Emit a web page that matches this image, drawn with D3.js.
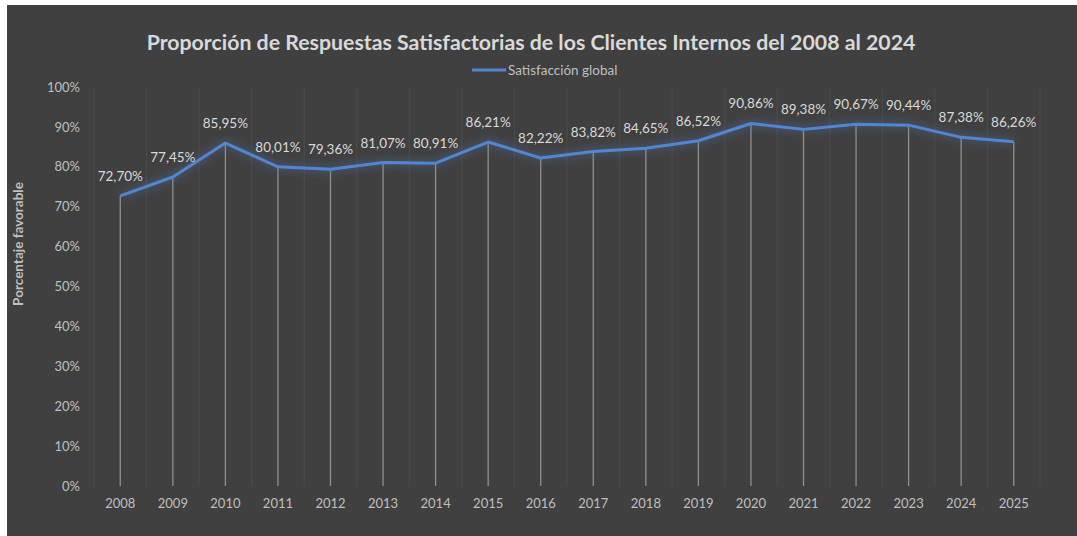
<!DOCTYPE html>
<html>
<head>
<meta charset="utf-8">
<script src="https://cdn.jsdelivr.net/npm/d3@7"></script>
<style>
  body { margin: 0; background: #ffffff; }
  svg { display: block; }
  text { font-family: Lato, "Open Sans", sans-serif; }
</style>
</head>
<body>
<svg id="chart" width="1077" height="536"></svg>
<script>
// data
var years = ["2008", "2009", "2010", "2011", "2012", "2013", "2014", "2015", "2016",
             "2017", "2018", "2019", "2020", "2021", "2022", "2023", "2024", "2025"];
var satisfaccion = [72.70, 77.45, 85.95, 80.01, 79.36, 81.07, 80.91, 86.21, 82.22,
                    83.82, 84.65, 86.52, 90.86, 89.38, 90.67, 90.44, 87.38, 86.26];
var yTicks = [0, 10, 20, 30, 40, 50, 60, 70, 80, 90, 100];
var titleText = "Proporción de Respuestas Satisfactorias de los Clientes Internos del 2008 al 2024";
var seriesName = "Satisfacción global";
var yTitle = "Porcentaje favorable";

var W = 1077, H = 536;
var margin = {top: 87, right: 37, bottom: 50, left: 94};

var svg = d3.select("#chart");

// dark chart area (white strip on top and left like the screenshot)
svg.append("rect")
    .attr("x", 7).attr("y", 5)
    .attr("width", W - 7).attr("height", H - 5)
    .attr("fill", "#404040");

var defs = svg.append("defs");
var glow = defs.append("filter").attr("id", "glow")
    .attr("x", "-5%").attr("y", "-40%").attr("width", "110%").attr("height", "180%");
glow.append("feGaussianBlur").attr("in", "SourceGraphic").attr("stdDeviation", 5).attr("result", "b");
glow.append("feComponentTransfer").attr("in", "b").attr("result", "b2")
    .append("feFuncA").attr("type", "linear").attr("slope", 0.7);
var merge = glow.append("feMerge");
merge.append("feMergeNode").attr("in", "b2");
merge.append("feMergeNode").attr("in", "SourceGraphic");

var x = d3.scaleBand()
    .domain(years)
    .range([margin.left, W - margin.right]);

var y = d3.scaleLinear()
    .domain([0, 100])
    .range([H - margin.bottom, margin.top]);

var loc = d3.formatLocale({decimal: ",", thousands: ".", grouping: [3], currency: ["", "€"]});
var fmt = loc.format(".2f");

var g = svg.append("g");

// faint vertical gridlines at category boundaries
var bounds = years.map(d => x(d)).concat([x(years[years.length - 1]) + x.bandwidth()]);
g.selectAll("line.grid")
    .data(bounds)
    .join("line")
    .attr("class", "grid")
    .attr("x1", d => d).attr("x2", d => d)
    .attr("y1", y(100)).attr("y2", y(0))
    .attr("stroke", "#4b4b4b")
    .attr("stroke-width", 1);

// drop lines from points down to axis
g.selectAll("line.drop")
    .data(satisfaccion)
    .join("line")
    .attr("class", "drop")
    .attr("x1", (d, i) => x(years[i]) + x.bandwidth() / 2)
    .attr("x2", (d, i) => x(years[i]) + x.bandwidth() / 2)
    .attr("y1", d => y(d))
    .attr("y2", y(0))
    .attr("stroke", "#8f8f8f")
    .attr("stroke-width", 1.3);

// y axis labels
var yAxis = d3.axisLeft(y)
    .tickValues(yTicks)
    .tickFormat(d => d + "%")
    .tickSize(0)
    .tickPadding(14);
var ya = svg.append("g")
    .attr("transform", "translate(" + margin.left + ",0)")
    .call(yAxis);
ya.select(".domain").remove();
ya.selectAll("text")
    .attr("fill", "#bfbfbf")
    .style("font-size", "13px")
    .style("font-family", "Lato, sans-serif");

// x axis labels
var xAxis = d3.axisBottom(x).tickSize(0).tickPadding(13);
var xa = svg.append("g")
    .attr("transform", "translate(0," + y(0) + ")")
    .call(xAxis);
xa.select(".domain").remove();
xa.selectAll("text")
    .attr("fill", "#bfbfbf")
    .style("font-size", "13px")
    .style("font-family", "Lato, sans-serif");

// the line with a soft blue glow
var line = d3.line()
    .x((d, i) => x(years[i]) + x.bandwidth() / 2)
    .y(d => y(d));

g.append("path")
    .datum(satisfaccion)
    .attr("d", line)
    .attr("fill", "none")
    .attr("stroke", "#5286d0")
    .attr("stroke-width", 3)
    .attr("stroke-linejoin", "round")
    .attr("filter", "url(#glow)");

// data labels
g.selectAll("text.lbl")
    .data(satisfaccion)
    .join("text")
    .attr("class", "lbl")
    .attr("x", (d, i) => x(years[i]) + x.bandwidth() / 2)
    .attr("y", d => y(d) - 15)
    .attr("text-anchor", "middle")
    .attr("fill", "#d9d9d9")
    .style("font-size", "13.5px")
    .text(d => fmt(d) + "%");

// title
svg.append("text")
    .attr("x", 531)
    .attr("y", 50)
    .attr("text-anchor", "middle")
    .attr("fill", "#d9d9d9")
    .style("font-size", "21.3px")
    .style("font-weight", "bold")
    .text(titleText);

// legend
svg.append("line")
    .attr("x1", 472).attr("x2", 506)
    .attr("y1", 70).attr("y2", 70)
    .attr("stroke", "#5286d0")
    .attr("stroke-width", 3);
svg.append("text")
    .attr("x", 508)
    .attr("y", 74.5)
    .attr("fill", "#bfbfbf")
    .style("font-size", "13.5px")
    .text(seriesName);

// y axis title
svg.append("text")
    .attr("transform", "translate(23,244) rotate(-90)")
    .attr("text-anchor", "middle")
    .attr("fill", "#bfbfbf")
    .style("font-size", "13.5px")
    .style("font-weight", "bold")
    .text(yTitle);
</script>
</body>
</html>
